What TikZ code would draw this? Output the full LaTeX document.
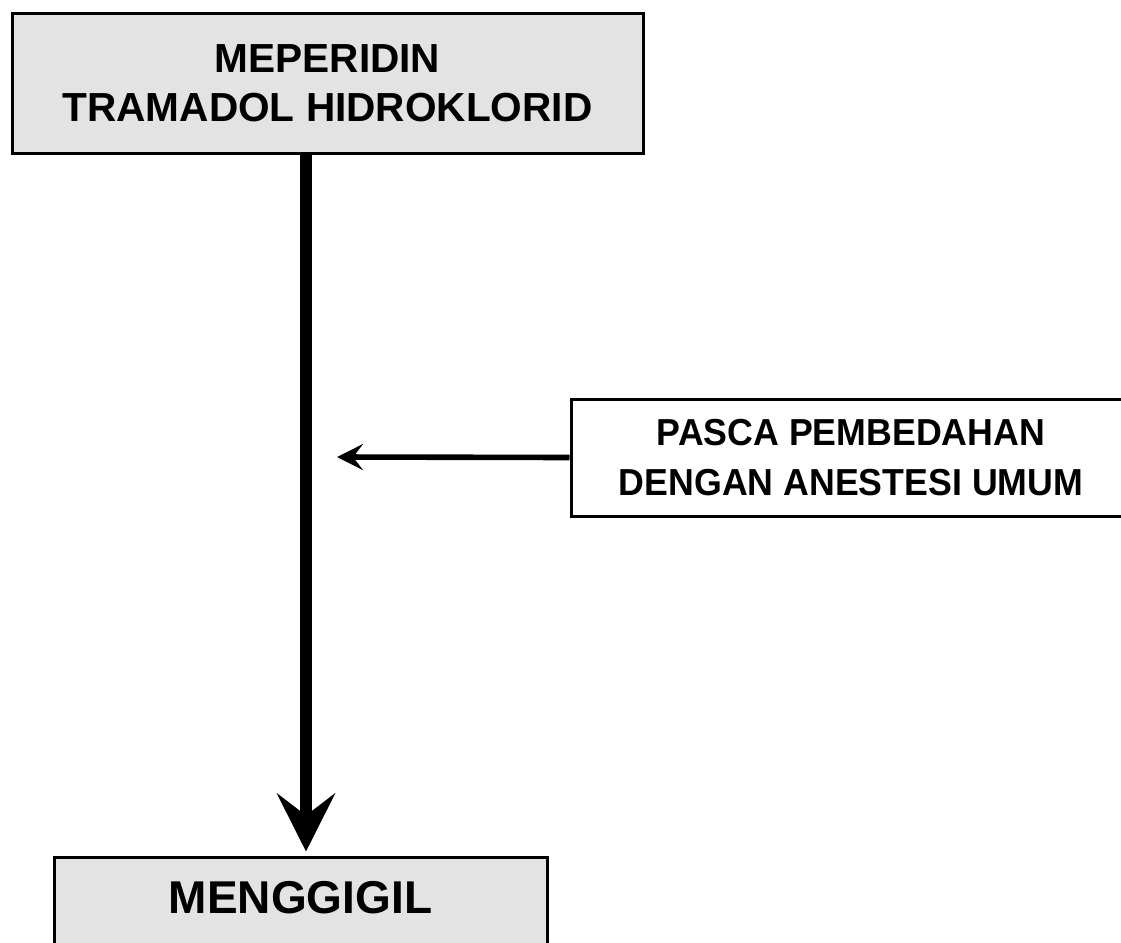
\documentclass[tikz,border=0pt]{standalone}
\usepackage{fontspec}
\setmainfont{Liberation Sans}
\newfontfamily\narrowsans[FakeStretch=0.95]{Liberation Sans}
\usetikzlibrary{arrows.meta}

\begin{document}
\begin{tikzpicture}[x=0.5pt,y=-0.5pt,
    shadedbox/.style={draw, line width=1.5pt, fill=gray!22, inner sep=0pt, align=center},
    plainbox/.style={draw, line width=1.5pt, fill=white, inner sep=0pt, align=center}]
\useasboundingbox (0,0) rectangle (1121,943);
\clip (0,0) rectangle (1121,943);
\node[shadedbox, minimum width=315.5pt, minimum height=70pt,
      font=\bfseries\fontsize{20.3}{24.5}\selectfont] (drug) at (327.5,83) {MEPERIDIN\\TRAMADOL HIDROKLORID};
\node[plainbox, minimum width=280pt, minimum height=58.5pt,
      font=\narrowsans\bfseries\fontsize{18.8}{25}\selectfont] (cond) at (851,457.5) {PASCA PEMBEDAHAN\\DENGAN ANESTESI UMUM};
\node[shadedbox, anchor=base, minimum width=246.5pt, text height=28pt, text depth=22pt,
      font=\bfseries\fontsize{23}{27}\selectfont] (shiver) at (300.5,913) {MENGGIGIL};
\coordinate (axis) at (306,0);
\coordinate (hit) at (337,457);
\draw[line width=6pt, -{Stealth[length=29pt, width=29pt, inset=11pt]}, shorten >=2pt]
    (drug.south -| axis) -- (shiver.north -| axis);
\draw[line width=2.8pt, -{Stealth[length=13pt, width=13pt, inset=5pt]}] (cond.west) -- (hit);
\end{tikzpicture}
\end{document}
